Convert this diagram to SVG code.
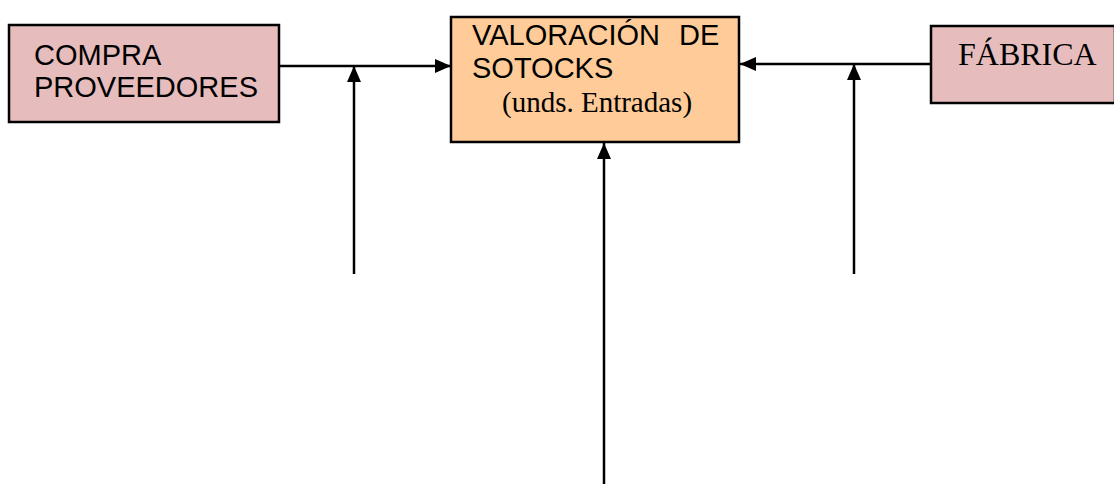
<svg xmlns="http://www.w3.org/2000/svg" width="1114" height="486" viewBox="0 0 1114 486">
<style>
.box{stroke:#000;stroke-width:2.5}
.pink{fill:#e6bcbc}
.orange{fill:#ffcc99}
.sans{font-family:"Liberation Sans",Arial,sans-serif;font-size:29px;fill:#000}
.serif{font-family:"Liberation Serif","Times New Roman",serif;fill:#000}
.con{stroke:#000;stroke-width:2.5;fill:none}
</style>
<defs>
<marker id="ah" viewBox="0 0 16 14" refX="16" refY="7" markerWidth="16" markerHeight="14" markerUnits="userSpaceOnUse" orient="auto">
<polygon points="0,0 16,7 0,14" fill="#000"/>
</marker>
</defs>
<g id="compra">
<rect class="box pink" x="9" y="25" width="270" height="97"/>
<text class="sans" x="34" y="65">COMPRA</text>
<text class="sans" x="34" y="97">PROVEEDORES</text>
</g>
<g id="valoracion">
<rect class="box orange" x="451" y="17" width="288" height="125"/>
<text class="sans" x="472" y="45">VALORACIÓN</text>
<text class="sans" x="679" y="45">DE</text>
<text class="sans" x="472" y="78">SOTOCKS</text>
<text class="serif" x="502" y="112" font-size="29">(unds. Entradas)</text>
</g>
<g id="fabrica">
<rect class="box pink" x="931" y="26" width="184" height="77"/>
<text class="serif" x="958" y="65" font-size="32">FÁBRICA</text>
</g>
<g id="connectors">
<line class="con" x1="279" y1="66" x2="451" y2="66" marker-end="url(#ah)"/>
<line class="con" x1="354" y1="274" x2="354" y2="66" marker-end="url(#ah)"/>
<line class="con" x1="931" y1="64" x2="740" y2="64" marker-end="url(#ah)"/>
<line class="con" x1="854" y1="274" x2="854" y2="64" marker-end="url(#ah)"/>
<line class="con" x1="604" y1="484" x2="604" y2="143" marker-end="url(#ah)"/>
</g>
</svg>
